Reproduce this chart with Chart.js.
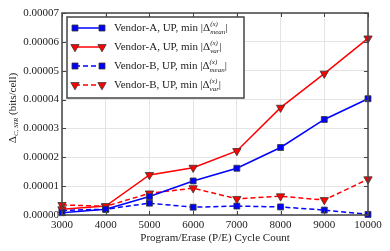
<!DOCTYPE html>
<html>
<head>
<meta charset="utf-8">
<script src="https://cdn.jsdelivr.net/npm/chart.js@4.4.0/dist/chart.umd.min.js"></script>
<style>
  html, body { margin:0; padding:0; background:#fff; }
  #wrap { width:390px; height:251px; }
</style>
</head>
<body>
<div id="wrap"><canvas id="chart" width="390" height="251"></canvas></div>
<script>
// P/E cycle counts on the x axis
var cycles = [3000, 4000, 5000, 6000, 7000, 8000, 9000, 10000];

// values (bits/cell)
var aMean = [0.08e-5, 0.20e-5, 0.64e-5, 1.18e-5, 1.62e-5, 2.34e-5, 3.31e-5, 4.03e-5];
var aVar  = [0.20e-5, 0.31e-5, 1.39e-5, 1.64e-5, 2.22e-5, 3.72e-5, 4.90e-5, 6.12e-5];
var bMean = [0.16e-5, 0.20e-5, 0.41e-5, 0.27e-5, 0.31e-5, 0.28e-5, 0.17e-5, 0.02e-5];
var bVar  = [0.35e-5, 0.30e-5, 0.75e-5, 0.93e-5, 0.56e-5, 0.65e-5, 0.52e-5, 1.24e-5];

var yTicks = [0, 0.00001, 0.00002, 0.00003, 0.00004, 0.00005, 0.00006, 0.00007];

var SERIF = '"Liberation Serif", "DejaVu Serif", serif';
var FRAME = '#444';

function pts(vals) {
  return vals.map(function (v, i) { return {x: cycles[i], y: v}; });
}

function mkSet(label, vals, color, dashed, style) {
  return {
    label: label,
    data: pts(vals),
    borderColor: color,
    backgroundColor: color,
    borderWidth: 1.5,
    borderDash: dashed ? [5, 3] : [],
    pointStyle: style,
    pointRotation: style == 'triangle' ? 180 : 0,
    pointRadius: style == 'triangle' ? 4.8 : 4.2,
    pointBorderColor: '#333',
    pointBorderWidth: 0.8,
    pointBackgroundColor: color,
    tension: 0,
    clip: false
  };
}

// draw pieces of text one after another, some raised or lowered
function richText(ctx, parts, x, y) {
  parts.forEach(function (p) {
    if (p.stack) {
      ctx.font = p.stack[0].font;
      var w1 = ctx.measureText(p.stack[0].t).width;
      ctx.fillText(p.stack[0].t, x, y + p.stack[0].dy);
      ctx.font = p.stack[1].font;
      var w2 = ctx.measureText(p.stack[1].t).width;
      ctx.fillText(p.stack[1].t, x, y + p.stack[1].dy);
      x += Math.max(w1, w2);
    } else {
      ctx.font = p.font;
      ctx.fillText(p.t, x, y + (p.dy || 0));
      x += ctx.measureText(p.t).width;
    }
  });
}

function marker(ctx, style, color, x, y) {
  ctx.save();
  ctx.fillStyle = color;
  ctx.strokeStyle = '#333';
  ctx.lineWidth = 0.8;
  ctx.setLineDash([]);
  ctx.beginPath();
  if (style == 'rect') {
    ctx.rect(x - 3, y - 3, 6, 6);
  } else {
    var r = 4.8;
    ctx.moveTo(x, y + r);
    ctx.lineTo(x - r * 0.866, y - r / 2);
    ctx.lineTo(x + r * 0.866, y - r / 2);
    ctx.closePath();
  }
  ctx.fill();
  ctx.stroke();
  ctx.restore();
}

var extras = {
  id: 'extras',
  afterDraw: function (chart) {
    var ctx = chart.ctx;
    var a = chart.chartArea;
    var xs = chart.scales.x, ys = chart.scales.y;

    // inward ticks on all four sides
    ctx.save();
    ctx.strokeStyle = FRAME;
    ctx.lineWidth = 1;
    cycles.forEach(function (c) {
      var px = Math.round(xs.getPixelForValue(c)) + 0.5;
      ctx.beginPath();
      ctx.moveTo(px, a.bottom); ctx.lineTo(px, a.bottom - 4);
      ctx.moveTo(px, a.top); ctx.lineTo(px, a.top + 4);
      ctx.stroke();
    });
    yTicks.forEach(function (v) {
      var py = Math.round(ys.getPixelForValue(v)) + 0.5;
      ctx.beginPath();
      ctx.moveTo(a.left, py); ctx.lineTo(a.left + 4, py);
      ctx.moveTo(a.right, py); ctx.lineTo(a.right - 4, py);
      ctx.stroke();
    });
    // frame
    ctx.lineWidth = 1.5;
    ctx.strokeRect(a.left, a.top, a.right - a.left, a.bottom - a.top);
    ctx.restore();

    // legend
    var lx = 67, ly = 17, lw = 177, lh = 81;
    ctx.save();
    ctx.fillStyle = '#fff';
    ctx.fillRect(lx, ly, lw, lh);
    ctx.strokeStyle = FRAME;
    ctx.lineWidth = 1.5;
    ctx.strokeRect(lx, ly, lw, lh);

    var items = [
      {color: '#0000ff', dashed: false, style: 'rect', sub: 'mean'},
      {color: '#ff0000', dashed: false, style: 'triangle', sub: 'var'},
      {color: '#0000ff', dashed: true, style: 'rect', sub: 'mean'},
      {color: '#ff0000', dashed: true, style: 'triangle', sub: 'var'}
    ];
    var vendors = ['Vendor-A', 'Vendor-A', 'Vendor-B', 'Vendor-B'];
    items.forEach(function (it, i) {
      var yy = 28 + i * 19;
      ctx.strokeStyle = it.color;
      ctx.lineWidth = 1.5;
      ctx.setLineDash(it.dashed ? [5, 3] : []);
      ctx.beginPath();
      ctx.moveTo(75, yy); ctx.lineTo(102, yy);
      ctx.stroke();
      marker(ctx, it.style, it.color, 75, yy);
      marker(ctx, it.style, it.color, 102, yy);

      ctx.fillStyle = '#222';
      ctx.textBaseline = 'middle';
      ctx.textAlign = 'left';
      richText(ctx, [
        {t: vendors[i] + ', UP, min |\u0394', font: '11px ' + SERIF},
        {stack: [
          {t: '(x)', font: 'italic 7px ' + SERIF, dy: -4},
          {t: it.sub, font: 'italic 7px ' + SERIF, dy: 4}
        ]},
        {t: '|', font: '11px ' + SERIF}
      ], 114, yy);
    });
    ctx.restore();

    // y axis title, rotated
    ctx.save();
    ctx.translate(13, 108);
    ctx.rotate(-Math.PI / 2);
    ctx.fillStyle = '#222';
    ctx.textBaseline = 'middle';
    ctx.textAlign = 'left';
    var parts = [
      {t: '\u0394', font: '11px ' + SERIF},
      {t: 'C, SIR', font: 'italic 7px ' + SERIF, dy: 3},
      {t: ' (bits/cell)', font: '11px ' + SERIF}
    ];
    var total = 0;
    parts.forEach(function (p) { ctx.font = p.font; total += ctx.measureText(p.t).width; });
    richText(ctx, parts, -total / 2, 0);
    ctx.restore();

    // x axis title
    ctx.save();
    ctx.fillStyle = '#222';
    ctx.font = '11px ' + SERIF;
    ctx.textAlign = 'center';
    ctx.textBaseline = 'middle';
    ctx.fillText('Program/Erase (P/E) Cycle Count', (a.left + a.right) / 2, 238);
    ctx.restore();
  }
};

new Chart(document.getElementById('chart'), {
  type: 'line',
  data: {
    datasets: [
      mkSet('Vendor-A, UP, min |Δmean|', aMean, '#0000ff', false, 'rect'),
      mkSet('Vendor-A, UP, min |Δvar|', aVar, '#ff0000', false, 'triangle'),
      mkSet('Vendor-B, UP, min |Δmean|', bMean, '#0000ff', true, 'rect'),
      mkSet('Vendor-B, UP, min |Δvar|', bVar, '#ff0000', true, 'triangle')
    ]
  },
  options: {
    responsive: false,
    animation: false,
    devicePixelRatio: 1,
    layout: {padding: {top: 13, right: 22, left: 0, bottom: 0}},
    plugins: {legend: {display: false}, tooltip: {enabled: false}},
    scales: {
      x: {
        type: 'linear',
        min: 3000, max: 10000,
        afterFit: function (s) { s.height = 36; },
        afterBuildTicks: function (s) { s.ticks = cycles.map(function (v) { return {value: v}; }); },
        grid: {color: '#e4e4e4', drawTicks: false},
        border: {display: false},
        ticks: {
          color: '#222', padding: 4, maxRotation: 0, font: {family: SERIF, size: 11},
          callback: function (v) { return String(v); }
        }
      },
      y: {
        min: 0, max: 0.00007,
        afterFit: function (s) { s.width = 62; },
        afterBuildTicks: function (s) { s.ticks = yTicks.map(function (v) { return {value: v}; }); },
        grid: {color: '#e4e4e4', drawTicks: false},
        border: {display: false},
        ticks: {
          color: '#222', padding: 3, font: {family: SERIF, size: 11},
          callback: function (v) { return v.toFixed(5); }
        }
      }
    }
  },
  plugins: [extras]
});
</script>
</body>
</html>
